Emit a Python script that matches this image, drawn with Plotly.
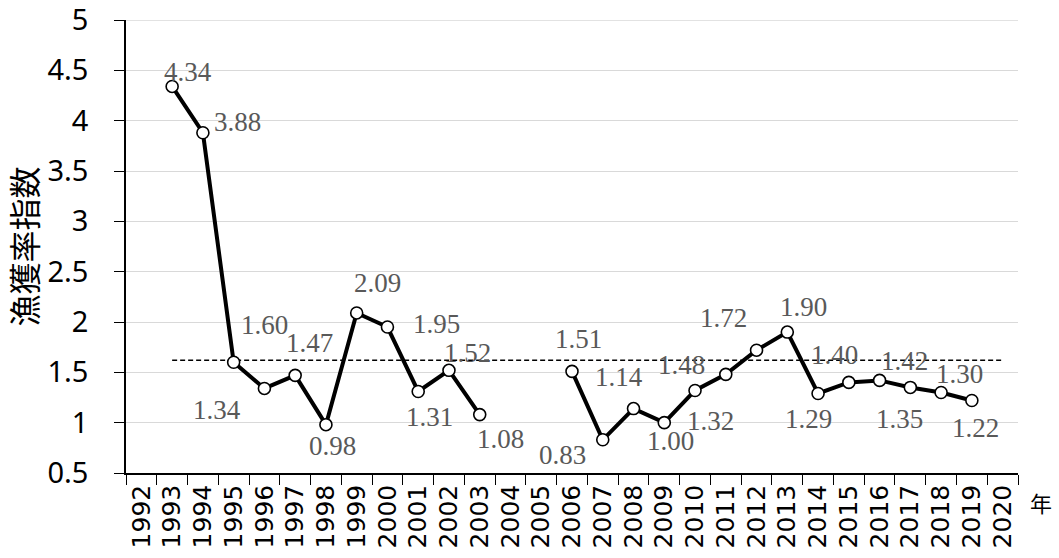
import plotly.graph_objects as go

# Fiscal years shown on the category axis
years = [str(y) for y in range(1992, 2021)]

# Catch-rate index by year (None = no survey)
index_values = [
    None, 4.34, 3.88, 1.60, 1.34, 1.47, 0.98, 2.09, 1.95, 1.31, 1.52, 1.08,
    None, None, 1.51, 0.83, 1.14, 1.00, 1.32, 1.48, 1.72, 1.90, 1.29, 1.40,
    1.42, 1.35, 1.30, 1.22, None,
]

# Long-term mean reference level
mean_level = 1.62
mean_span = ["1993", "2020"]

# Y-axis ticks
y_ticks = [0.5, 1, 1.5, 2, 2.5, 3, 3.5, 4, 4.5, 5]
y_tick_text = ["0.5", "1", "1.5", "2", "2.5", "3", "3.5", "4", "4.5", "5"]

# Per-label pixel offsets (dx right, dy down) for the value labels
label_offsets = {
    "1993": (16, -14), "1994": (35, -11), "1995": (31, -37), "1996": (-47, 22),
    "1997": (14, -32), "1998": (7, 21), "1999": (21, -30), "2000": (49, -3),
    "2001": (11, 26), "2002": (19, -17), "2003": (21, 24), "2006": (6, -32),
    "2007": (-40, 15), "2008": (-15, -32), "2009": (6, 18), "2010": (15, 31),
    "2011": (-44, -9), "2012": (-33, -32), "2013": (16, -25), "2014": (-10, 26),
    "2015": (-14, -27), "2016": (25, -19), "2017": (-11, 32), "2018": (18, -18),
    "2019": (4, 27),
}

GRID = "#d9d9d9"

fig = go.Figure()

fig.add_trace(go.Scatter(
    x=mean_span, y=[mean_level, mean_level],
    mode="lines",
    line=dict(color="black", width=1.5, dash="5px,3px"),
    hoverinfo="skip", showlegend=False,
))

fig.add_trace(go.Scatter(
    x=years, y=index_values,
    mode="lines+markers",
    connectgaps=False,
    line=dict(color="black", width=4),
    marker=dict(symbol="circle", size=12, color="white",
                line=dict(color="black", width=1.6)),
    showlegend=False,
))

annotations = []
for i, (yr, val) in enumerate(zip(years, index_values)):
    if val is None:
        continue
    dx, dy = label_offsets[yr]
    # category axes take the category index for annotation positions
    annotations.append(dict(
        x=i, y=val, xref="x", yref="y",
        text=f"{val:.2f}", showarrow=False,
        xshift=dx, yshift=-dy,
        font=dict(family="Liberation Serif", size=27, color="#595959"),
    ))

# year-unit label to the right of the category axis
annotations.append(dict(
    x=1.0, y=0.0, xref="paper", yref="paper", text="年", showarrow=False,
    xanchor="center", yanchor="middle", xshift=23, yshift=-29,
    font=dict(family="Noto Sans CJK JP", size=22, color="black"),
))

fig.update_layout(
    width=1059, height=558,
    margin=dict(l=126, r=41, t=20, b=85),
    paper_bgcolor="white", plot_bgcolor="white",
    annotations=annotations,
    # gridline along the top edge of the plot area
    shapes=[dict(type="line", xref="paper", yref="y", x0=0, x1=1,
                 y0=y_ticks[-1], y1=y_ticks[-1], layer="below",
                 line=dict(color=GRID, width=1.3))],
    xaxis=dict(
        type="category", categoryorder="array", categoryarray=years,
        range=[-0.5, len(years) - 0.5],
        tickmode="array", tickvals=years, ticktext=years,
        tickangle=-90, tickson="boundaries",
        ticks="outside", ticklen=10, tickcolor="black", tickwidth=1.3,
        showline=True, linecolor="black", linewidth=1.5,
        showgrid=False, zeroline=False, automargin=False,
        ticklabeloverflow="allow",
        tickfont=dict(family="DejaVu Sans", size=25, color="black"),
    ),
    yaxis=dict(
        range=[0.5, 5],
        tickmode="array", tickvals=y_ticks, ticktext=y_tick_text,
        ticks="outside", ticklen=10, tickcolor="black", tickwidth=1.3,
        showline=True, linecolor="black", linewidth=1.5,
        showgrid=True, gridcolor=GRID, gridwidth=1.3,
        zeroline=False, automargin=False,
        ticklabeloverflow="allow",
        ticklabelstandoff=20,
        tickfont=dict(family="Noto Sans", size=29, color="black"),
        title=dict(text="漁獲率指数", standoff=10,
                   font=dict(family="Noto Sans CJK JP", size=32, color="black")),
    ),
)

fig.write_html("out.html")
